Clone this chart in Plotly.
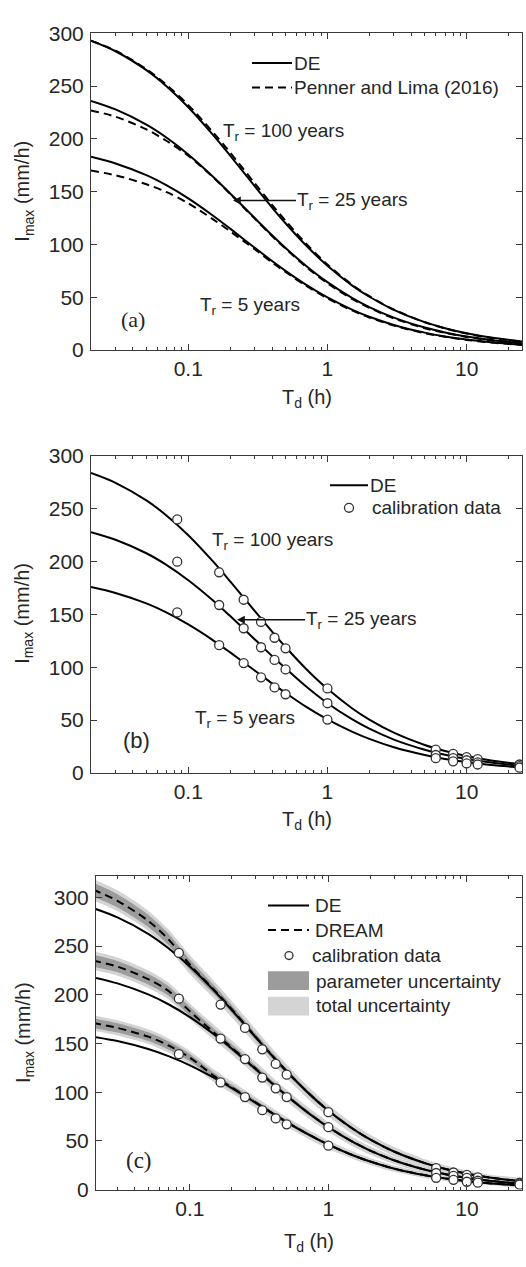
import math
import plotly.graph_objects as go

W, H = 526, 1267

# ---------------- data ----------------
T = [0.02, 0.03, 0.05, 0.07, 0.1, 0.15, 0.2, 0.3, 0.4, 0.5, 0.7, 1, 1.5, 2, 3, 5, 7, 10, 15, 25]

# panel (a): DE and Penner and Lima (2016)
a_de_100 = [293, 283.0, 265.1, 249.7, 230.0, 204.1, 184.2, 155.2, 135.0, 120.1, 99.2, 79.8, 61.3, 50.5, 38.1, 26.4, 20.7, 15.9, 11.8, 8.1]
a_de_25 = [236, 227.9, 213.5, 201.1, 185.3, 164.4, 148.3, 125.0, 108.7, 96.7, 79.9, 64.3, 49.4, 40.7, 30.7, 21.3, 16.7, 12.8, 9.5, 6.5]
a_de_5 = [183, 176.7, 165.6, 155.9, 143.7, 127.5, 115.0, 96.9, 84.3, 75.0, 61.9, 49.8, 38.3, 31.5, 23.8, 16.5, 12.9, 10.0, 7.4, 5.1]
a_pl_100 = [293, 283.5, 266, 251, 232, 206.5, 187, 158, 137.5, 122.5, 101, 81, 62, 51, 38.3, 26.3, 20.5, 15.6, 11.5, 7.8]
a_pl_25 = [227, 221, 209, 198, 184, 164, 148, 124.5, 108, 96, 79, 63.3, 48.5, 40, 30, 20.7, 16.2, 12.4, 9.2, 6.3]
a_pl_5 = [170, 165.5, 157, 149.5, 139, 124, 112.5, 95.5, 83, 74, 61, 49, 37.5, 30.8, 23.2, 16, 12.5, 9.6, 7.1, 4.8]

# panel (b): DE and calibration data
b_de_100 = [284, 274.7, 258.0, 243.6, 225.1, 200.5, 181.4, 153.4, 133.8, 119.2, 98.7, 79.6, 61.3, 50.5, 38.1, 26.5, 20.8, 16.0, 11.8, 8.1]
b_de_25 = [228, 220.8, 208, 196.8, 182.5, 163.5, 148.5, 126.5, 110.7, 99, 82, 66, 50.9, 41.9, 31.6, 22, 17.2, 13.2, 9.8, 6.7]
b_de_5 = [176, 170.4, 160.5, 151.8, 140.6, 125.8, 114.1, 97, 84.8, 75.8, 62.8, 50.7, 39.1, 32.2, 24.3, 16.9, 13.2, 10.2, 7.5, 5.2]

Tcal = [0.0833, 0.1667, 0.25, 0.3333, 0.4167, 0.5, 1, 6, 8, 10, 12, 24]
b_cal_100 = [240, 190, 164, 143, 128, 118, 80, 22, 18, 15, 13, 8]
b_cal_25 = [200, 159, 137, 119, 107, 98, 66, 17, 14, 12, 10, 6.5]
b_cal_5 = [152, 121, 104, 90.5, 81, 74.5, 50.5, 14, 11, 9, 8, 5]

# panel (c): DE, DREAM, calibration data, uncertainty bands (half-widths)
c_de_100 = [289, 279.5, 262.6, 247.8, 229, 204, 184.6, 156.1, 136.2, 121.3, 100.5, 81, 62.4, 51.4, 38.8, 27, 21.1, 16.3, 12.1, 8.3]
c_de_25 = [218, 211.7, 200.4, 190.3, 177.1, 159.2, 144.9, 123.4, 108, 96.3, 79.7, 64, 48.9, 40, 29.8, 20.3, 15.7, 11.9, 8.7, 5.8]
c_de_5 = [157, 152.5, 144.3, 137, 127.6, 114.6, 104.3, 88.9, 77.7, 69.3, 57.4, 46.1, 35.2, 28.8, 21.4, 14.6, 11.3, 8.6, 6.2, 4.2]
c_dr_100 = [308, 296.5, 276, 257, 231, 205, 185.5, 156.5, 136.4, 121.4, 100.6, 81, 62.4, 51.4, 38.8, 27, 21.1, 16.3, 12.1, 8.3]
c_dr_25 = [235, 229, 216, 204, 183, 161, 146, 124, 108.3, 96.5, 79.9, 64.2, 49, 40.1, 29.9, 20.4, 15.8, 12, 8.8, 5.9]
c_dr_5 = [171, 166, 157, 148, 135.5, 116.5, 105, 89.2, 77.8, 69.4, 57.5, 46.2, 35.3, 28.9, 21.5, 14.7, 11.4, 8.7, 6.3, 4.3]

c_par_100 = [7, 6.8, 6.3, 5.8, 5.2, 4.5, 4, 3.4, 3, 2.7, 2.3, 1.9, 1.6, 1.4, 1.2, 1, 0.9, 0.8, 0.7, 0.6]
c_tot_100 = [11, 10.8, 10.4, 10, 9.6, 9, 8.5, 7.8, 7.3, 7, 6.5, 6, 5.5, 5, 4.6, 4, 3.6, 3.2, 2.8, 2.4]
c_par_25 = [6, 5.8, 5.4, 5, 4.5, 3.9, 3.5, 3, 2.6, 2.3, 2, 1.7, 1.4, 1.2, 1, 0.9, 0.8, 0.7, 0.6, 0.5]
c_tot_25 = [9.5, 9.3, 9, 8.6, 8.2, 7.7, 7.3, 6.7, 6.3, 6, 5.6, 5.2, 4.7, 4.3, 3.9, 3.4, 3.1, 2.8, 2.4, 2]
c_par_5 = [5, 4.8, 4.5, 4.2, 3.8, 3.3, 2.9, 2.5, 2.2, 2, 1.7, 1.4, 1.2, 1, 0.9, 0.8, 0.7, 0.6, 0.5, 0.4]
c_tot_5 = [8, 7.8, 7.5, 7.2, 6.9, 6.5, 6.1, 5.6, 5.3, 5, 4.7, 4.3, 3.9, 3.6, 3.3, 2.9, 2.6, 2.3, 2, 1.7]

c_cal_100 = [243, 190, 166, 144, 129, 118, 79.5, 22, 17.5, 15, 12.5, 7]
c_cal_25 = [196, 155, 134, 115, 104, 95, 64, 17, 14, 12, 9, 6]
c_cal_5 = [139, 110, 95, 81.5, 73, 67, 45, 12, 10, 8, 7, 5]

x_ticks = [0.1, 1, 10]
x_ticktext = ["0.1", "1", "10"]
x_minor = [0.03, 0.04, 0.05, 0.06, 0.07, 0.08, 0.09, 0.2, 0.3, 0.4, 0.5, 0.6, 0.7, 0.8, 0.9,
           2, 3, 4, 5, 6, 7, 8, 9, 20]
y_ticks = [0, 50, 100, 150, 200, 250, 300]

# ---------------- styles ----------------
SANS = "Liberation Sans, Arial, sans-serif"
SERIF = "Liberation Serif, Times New Roman, serif"
TXT = "#262626"
FRAME = "#3a3a3a"
DASH = "8px,5px"
PAR_COL = "#9c9c9c"
TOT_COL = "#d4d4d4"


def P(px, py):
    return px / W, 1 - py / H


fig = go.Figure()


def line(x, y, ax, dash=None, width=2.0):
    fig.add_trace(go.Scatter(
        x=x, y=y, mode="lines", xaxis="x" + ax, yaxis="y" + ax,
        line=dict(color="black", width=width, dash=dash, shape="spline", smoothing=0.9),
        showlegend=False, hoverinfo="skip"))


def circles(x, y, ax):
    fig.add_trace(go.Scatter(
        x=x, y=y, mode="markers", xaxis="x" + ax, yaxis="y" + ax,
        marker=dict(symbol="circle", size=9, color="white", line=dict(color="#333333", width=1.3)),
        showlegend=False, hoverinfo="skip"))


def band(center, hw, color, ax):
    up = [c + h for c, h in zip(center, hw)]
    lo = [c - h for c, h in zip(center, hw)]
    fig.add_trace(go.Scatter(
        x=T + T[::-1], y=up + lo[::-1], mode="lines", fill="toself", fillcolor=color,
        xaxis="x" + ax, yaxis="y" + ax,
        line=dict(width=0, color=color, shape="spline", smoothing=0.8),
        showlegend=False, hoverinfo="skip"))


# panel a (axis suffix "")
for de, pl in [(a_de_100, a_pl_100), (a_de_25, a_pl_25), (a_de_5, a_pl_5)]:
    line(T, pl, "", dash=DASH)
    line(T, de, "")

# panel b
for de in [b_de_100, b_de_25, b_de_5]:
    line(T, de, "2")
for cal in [b_cal_100, b_cal_25, b_cal_5]:
    circles(Tcal, cal, "2")

# panel c
for dr, tot in [(c_dr_100, c_tot_100), (c_dr_25, c_tot_25), (c_dr_5, c_tot_5)]:
    band(dr, tot, TOT_COL, "3")
for dr, par in [(c_dr_100, c_par_100), (c_dr_25, c_par_25), (c_dr_5, c_par_5)]:
    band(dr, par, PAR_COL, "3")
for de, dr in [(c_de_100, c_dr_100), (c_de_25, c_dr_25), (c_de_5, c_dr_5)]:
    line(T, dr, "3", dash=DASH)
    line(T, de, "3")
for cal in [c_cal_100, c_cal_25, c_cal_5]:
    circles(Tcal, cal, "3")

# ---------------- axes ----------------
tickfont = dict(family=SANS, size=21, color=TXT)


def xaxis(domain, lo, anchor):
    return dict(type="log", domain=domain, range=[math.log10(lo), math.log10(25)], anchor=anchor,
                tickmode="array", tickvals=x_ticks, ticktext=x_ticktext,
                ticks="inside", ticklen=6, tickwidth=1, tickcolor=FRAME,
                showline=True, linecolor=FRAME, linewidth=1, mirror="allticks",
                showgrid=False, zeroline=False, tickfont=tickfont,
                minor=dict(tickmode="array", tickvals=x_minor, ticks="inside", ticklen=3,
                           tickwidth=1, tickcolor=FRAME, showgrid=False))


def yaxis(domain, top, anchor):
    return dict(domain=domain, range=[0, top], anchor=anchor,
                tickmode="array", tickvals=y_ticks,
                ticks="inside", ticklen=6, tickwidth=1, tickcolor=FRAME,
                showline=True, linecolor=FRAME, linewidth=1, mirror="allticks",
                showgrid=False, zeroline=False, tickfont=tickfont, ticklabelstandoff=2)


xa = [91 / W, 522 / W]
xc = [96 / W, 522 / W]
fig.update_layout(
    width=W, height=H, autosize=False,
    margin=dict(l=0, r=0, t=0, b=0),
    paper_bgcolor="white", plot_bgcolor="white",
    showlegend=False,
    font=dict(family=SANS, color=TXT, size=19),
    xaxis=xaxis(xa, 0.02, "y"),
    yaxis=yaxis([1 - 344.3 / H, 1 - 21.7 / H], 300, "x"),
    xaxis2=xaxis(xa, 0.02, "y2"),
    yaxis2=yaxis([1 - 775 / H, 1 - 452.3 / H], 300, "x2"),
    xaxis3=xaxis(xc, 0.021, "y3"),
    yaxis3=yaxis([1 - 1199.3 / H, 1 - 880 / H], 322, "x3"),
)


# ---------------- annotations & manual legends ----------------
def text(px, py, s, size=19, xanchor="left", family=SANS, angle=None):
    x, y = P(px, py)
    kw = dict(x=x, y=y, xref="paper", yref="paper", text=s, showarrow=False,
              xanchor=xanchor, yanchor="middle",
              font=dict(family=family, size=size, color=TXT))
    if angle is not None:
        kw["textangle"] = angle
    fig.add_annotation(**kw)


def arrow_text(px_head, py, tail_dx, s, size=19):
    x, y = P(px_head, py)
    fig.add_annotation(x=x, y=y, xref="paper", yref="paper", text=s, showarrow=True,
                       ax=tail_dx, ay=0, axref="pixel", ayref="pixel",
                       xanchor="left", yanchor="middle", arrowhead=2, arrowsize=1.2,
                       arrowwidth=1.3, arrowcolor="#111111", borderpad=0,
                       font=dict(family=SANS, size=size, color=TXT))


def leg_line(x0, x1, py, dash=None):
    a0, b0 = P(x0, py)
    a1, _ = P(x1, py)
    fig.add_shape(type="line", xref="paper", yref="paper", x0=a0, x1=a1, y0=b0, y1=b0,
                  line=dict(color="black", width=2, dash=dash))


def leg_circle(px, py, r=4.5):
    x0, y0 = P(px - r, py + r)
    x1, y1 = P(px + r, py - r)
    fig.add_shape(type="circle", xref="paper", yref="paper", x0=x0, x1=x1, y0=y0, y1=y1,
                  line=dict(color="#333333", width=1.3), fillcolor="white")


def leg_rect(x0p, x1p, y0p, y1p, color):
    x0, y0 = P(x0p, y1p)
    x1, y1 = P(x1p, y0p)
    fig.add_shape(type="rect", xref="paper", yref="paper", x0=x0, x1=x1, y0=y0, y1=y1,
                  line=dict(width=0), fillcolor=color)


# axis titles
for cy in [183, 613, 1040]:
    text(24, cy, "I<sub>max</sub> (mm/h)", size=20, xanchor="center", angle=-90)
text(307, 394, "T<sub>d</sub> (h)", size=20, xanchor="center")
text(307, 823, "T<sub>d</sub> (h)", size=20, xanchor="center")
text(309, 1253, "T<sub>d</sub> (h)", size=20, xanchor="center")

# panel a
text(221, 122, "T<sub>r</sub> = 100 years")
arrow_text(233, 192, 63, "T<sub>r</sub> = 25 years")
text(198, 299, "T<sub>r</sub> = 5 years")
text(133, 313, "(a)", size=22, xanchor="center", family=SERIF)
leg_line(252, 292, 52)
text(292, 52, "DE")
leg_line(252, 292, 77, dash=DASH)
text(292, 77, "Penner and Lima (2016)")

# panel b
text(210, 539, "T<sub>r</sub> = 100 years")
arrow_text(237, 619, 68, "T<sub>r</sub> = 25 years")
text(193, 720, "T<sub>r</sub> = 5 years")
text(136, 742, "(b)", size=22, xanchor="center")
leg_line(330, 368, 482)
text(368, 482, "DE")
leg_circle(349, 505)
text(370, 505, "calibration data")

# panel c
text(139, 1170, "(c)", size=23, xanchor="center", family=SERIF)
leg_line(268, 309, 910)
text(313, 910, "DE")
leg_line(268, 309, 935, dash=DASH)
text(313, 935, "DREAM")
leg_circle(289, 961, r=4)
text(310, 961, "calibration data")
leg_rect(268, 309, 977, 996, PAR_COL)
text(314, 987, "parameter uncertainty")
leg_rect(268, 309, 1003, 1022, TOT_COL)
text(314, 1012, "total uncertainty")

fig.write_html("out.html")
